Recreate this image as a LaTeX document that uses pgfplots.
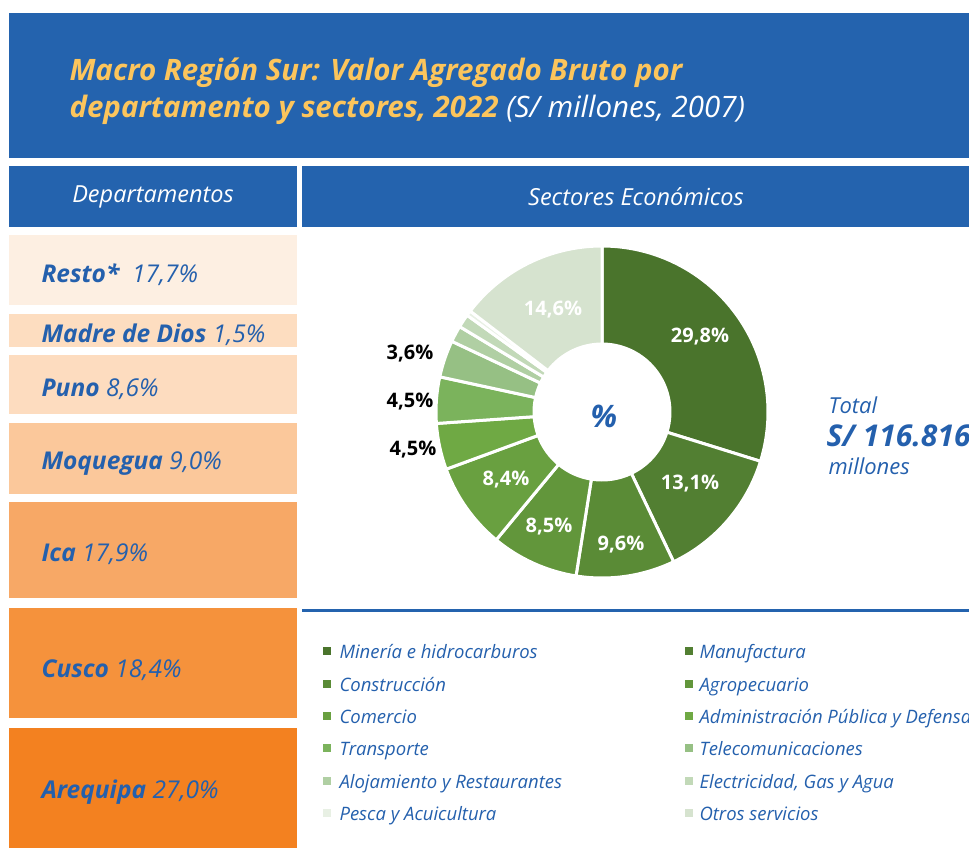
\documentclass[border=0pt]{standalone}
\usepackage{pgfplots}
\pgfplotsset{compat=1.18}
\usepackage{fontspec}
\setmainfont{Open Sans}
\definecolor{hblue}{HTML}{2463AE}
\definecolor{tblue}{HTML}{2460AD}
\definecolor{ttl}{HTML}{FCC55C}
\definecolor{d1}{HTML}{FDEFE2}
\definecolor{d2}{HTML}{FDDDC0}
\definecolor{d3}{HTML}{FDDCBF}
\definecolor{d4}{HTML}{FBC89B}
\definecolor{d5}{HTML}{F7A866}
\definecolor{d6}{HTML}{F5923C}
\definecolor{d7}{HTML}{F38120}
\definecolor{s1}{HTML}{4A742C}
\definecolor{s2}{HTML}{527F32}
\definecolor{s3}{HTML}{5A8B36}
\definecolor{s4}{HTML}{62963B}
\definecolor{s5}{HTML}{69A040}
\definecolor{s6}{HTML}{6FA944}
\definecolor{s7}{HTML}{7BB35C}
\definecolor{s8}{HTML}{96C084}
\definecolor{s9}{HTML}{B0CFA3}
\definecolor{s10}{HTML}{C2D9B8}
\definecolor{s11}{HTML}{E8F0E4}
\definecolor{s12}{HTML}{D6E3CF}
\begin{document}
\begin{tikzpicture}
\begin{axis}[width=969pt,height=848pt,scale only axis,
  xmin=0,xmax=969,ymin=0,ymax=848,y dir=reverse,
  axis lines=none,clip=false]
% header boxes
\addplot[fill=hblue,draw=none] coordinates {(9,13)(969,13)(969,158)(9,158)} -- cycle;
\addplot[fill=hblue,draw=none] coordinates {(9,166)(297,166)(297,227)(9,227)} -- cycle;
\addplot[fill=hblue,draw=none] coordinates {(302,166)(969,166)(969,227)(302,227)} -- cycle;
% department boxes
\addplot[fill=d1,draw=none] coordinates {(9,235)(297,235)(297,305)(9,305)} -- cycle;
\addplot[fill=d2,draw=none] coordinates {(9,314)(297,314)(297,347)(9,347)} -- cycle;
\addplot[fill=d3,draw=none] coordinates {(9,355)(297,355)(297,414)(9,414)} -- cycle;
\addplot[fill=d4,draw=none] coordinates {(9,423)(297,423)(297,494)(9,494)} -- cycle;
\addplot[fill=d5,draw=none] coordinates {(9,502)(297,502)(297,598)(9,598)} -- cycle;
\addplot[fill=d6,draw=none] coordinates {(9,608)(297,608)(297,718)(9,718)} -- cycle;
\addplot[fill=d7,draw=none] coordinates {(9,728)(297,728)(297,848)(9,848)} -- cycle;
% separator line
\addplot[hblue,line width=3pt] coordinates {(302,610)(969,610)};
% donut
\gdef\cum{0}
\foreach \v/\cc in {29.8/s1,13.1/s2,9.6/s3,8.5/s4,8.4/s5,4.5/s6,4.5/s7,3.6/s8,1.6/s9,1.3/s10,0.5/s11,14.6/s12}{
  \pgfmathsetmacro\a{90-3.6*\cum}
  \pgfmathsetmacro\b{90-3.6*(\cum+\v)}
  \pgfmathsetmacro\nc{\cum+\v}
  \xdef\cum{\nc}
  \edef\temp{\noexpand\filldraw[fill=\cc,draw=white,line width=3pt] (axis cs:602,412) ++(\a:166pt) arc[start angle=\a,end angle=\b,radius=166pt] -- ++(\b+180:98pt) arc[start angle=\b,end angle=\a,radius=68pt] -- cycle;}
  \temp
}
% title
\node[anchor=base west,text=ttl,font=\fontsize{29.5}{34}\selectfont\bfseries\itshape] at (axis cs:66,81) {Macro Región Sur: Valor Agregado Bruto por};
\node[anchor=base west,text=ttl,font=\fontsize{29.5}{34}\selectfont\bfseries\itshape] at (axis cs:66,118) {departamento y sectores, 2022 {\mdseries\color{white}(S/ millones, 2007)}};
\node[text=white,font=\fontsize{23.5}{27}\selectfont\itshape] at (axis cs:153,197) {Departamentos};
\node[text=white,font=\fontsize{23.5}{27}\selectfont\itshape] at (axis cs:636,197) {Sectores Económicos};
% department labels
\tikzset{dep/.style={anchor=base west,text=tblue,font=\fontsize{24.5}{28}\selectfont\itshape}}
\node[dep] at (axis cs:38,282) {\textbf{Resto*}\ \ 17,7\%};
\node[dep] at (axis cs:38,342) {\textbf{Madre de Dios} 1,5\%};
\node[dep] at (axis cs:38,396) {\textbf{Puno} 8,6\%};
\node[dep] at (axis cs:38,469) {\textbf{Moquegua} 9,0\%};
\node[dep] at (axis cs:38,561) {\textbf{Ica} 17,9\%};
\node[dep] at (axis cs:38,677) {\textbf{Cusco} 18,4\%};
\node[dep] at (axis cs:38,798) {\textbf{Arequipa} 27,0\%};
% donut labels
\tikzset{lab/.style={text=white,font=\fontsize{20}{23}\selectfont\bfseries}}
\node[lab] at (axis cs:700,337) {29,8\%};
\node[lab] at (axis cs:690,484) {13,1\%};
\node[lab] at (axis cs:621,545) {9,6\%};
\node[lab] at (axis cs:549,527) {8,5\%};
\node[lab] at (axis cs:506,480) {8,4\%};
\node[lab] at (axis cs:553,310) {14,6\%};
\node[lab,text=black] at (axis cs:410,354) {3,6\%};
\node[lab,text=black] at (axis cs:410,402) {4,5\%};
\node[lab,text=black] at (axis cs:413,450) {4,5\%};
\node[text=tblue,font=\fontsize{31}{34}\selectfont\bfseries\itshape] at (axis cs:604,416) {\%};
% total
\node[anchor=base west,text=tblue,font=\fontsize{22}{26}\selectfont\itshape] at (axis cs:825,413) {Total};
\node[anchor=base west,text=tblue,font=\fontsize{30}{34}\selectfont\bfseries\itshape] at (axis cs:823,446) {S/ 116.816};
\node[anchor=base west,text=tblue,font=\fontsize{22}{26}\selectfont\itshape] at (axis cs:825,474) {millones};
% legend
\addplot[only marks,mark=square*,mark size=3.5pt,s1,mark options={draw=none}] coordinates {(327,651)};
\addplot[only marks,mark=square*,mark size=3.5pt,s2,mark options={draw=none}] coordinates {(689,651)};
\addplot[only marks,mark=square*,mark size=3.5pt,s3,mark options={draw=none}] coordinates {(327,684)};
\addplot[only marks,mark=square*,mark size=3.5pt,s4,mark options={draw=none}] coordinates {(689,684)};
\addplot[only marks,mark=square*,mark size=3.5pt,s5,mark options={draw=none}] coordinates {(327,716)};
\addplot[only marks,mark=square*,mark size=3.5pt,s6,mark options={draw=none}] coordinates {(689,716)};
\addplot[only marks,mark=square*,mark size=3.5pt,s7,mark options={draw=none}] coordinates {(327,748)};
\addplot[only marks,mark=square*,mark size=3.5pt,s8,mark options={draw=none}] coordinates {(689,748)};
\addplot[only marks,mark=square*,mark size=3.5pt,s9,mark options={draw=none}] coordinates {(327,781)};
\addplot[only marks,mark=square*,mark size=3.5pt,s10,mark options={draw=none}] coordinates {(689,781)};
\addplot[only marks,mark=square*,mark size=3.5pt,s11,mark options={draw=none}] coordinates {(327,813)};
\addplot[only marks,mark=square*,mark size=3.5pt,s12,mark options={draw=none}] coordinates {(689,813)};
\tikzset{leg/.style={anchor=base west,text=tblue,font=\fontsize{18.5}{21}\selectfont\itshape}}
\node[leg] at (axis cs:336,658) {Minería e hidrocarburos};
\node[leg] at (axis cs:696,658) {Manufactura};
\node[leg] at (axis cs:336,691) {Construcción};
\node[leg] at (axis cs:696,691) {Agropecuario};
\node[leg] at (axis cs:336,723) {Comercio};
\node[leg] at (axis cs:696,723) {Administración Pública y Defensa};
\node[leg] at (axis cs:336,755) {Transporte};
\node[leg] at (axis cs:696,755) {Telecomunicaciones};
\node[leg] at (axis cs:336,788) {Alojamiento y Restaurantes};
\node[leg] at (axis cs:696,788) {Electricidad, Gas y Agua};
\node[leg] at (axis cs:336,820) {Pesca y Acuicultura};
\node[leg] at (axis cs:696,820) {Otros servicios};
\end{axis}
\pgfresetboundingbox
\path (current axis.south west) rectangle (current axis.north east);
\end{tikzpicture}
\end{document}
